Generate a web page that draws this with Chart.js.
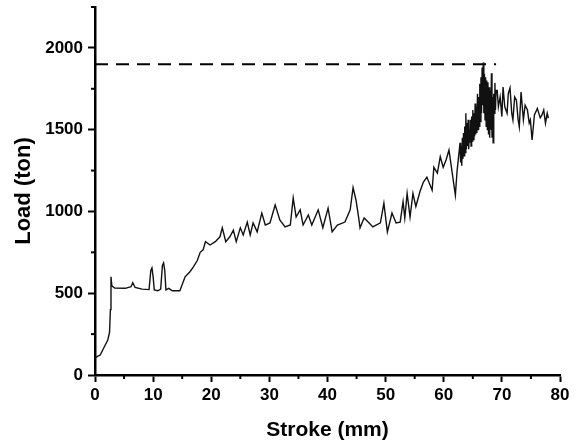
<!DOCTYPE html>
<html>
<head>
<meta charset="utf-8">
<script src="https://cdn.jsdelivr.net/npm/chart.js@4"></script>
<style>
html,body{margin:0;padding:0;background:#fff;}
#wrap{width:585px;height:447px;}
</style>
</head>
<body>
<div id="wrap"><canvas id="c" width="585" height="447"></canvas></div>
<script>
// Stroke (mm) and load (ton)
const strokeValues = [
  0,0.5,0.9,1.5,2.2,2.5,2.65,2.75,2.9,3.4,
  5.2,6.2,6.5,6.9,8.1,9.3,9.6,9.8,10.0,10.2,
  10.8,11.3,11.6,11.8,12.0,12.2,12.7,13.3,14.6,15.5,
  16.3,16.9,17.6,18.1,18.6,19.0,19.8,20.7,21.5,21.9,
  22.5,23.2,23.8,24.3,25.0,25.5,26.2,26.7,27.2,27.9,
  28.7,29.3,30.1,31.0,31.8,32.7,33.6,34.1,34.6,35.3,
  35.8,36.7,37.3,38.4,39.2,40.1,40.8,41.7,43.0,43.9,
  44.4,44.9,45.3,45.6,46.3,47.0,47.8,49.1,49.7,50.3,
  51.1,51.8,52.5,53.0,53.3,53.7,54.2,54.7,55.2,55.9,
  56.5,57.1,58.0,58.3,58.9,59.4,59.9,60.4,60.9,61.4,
  62.0,62.3,
  62.8,62.9,63.0,63.1,63.2,63.3,63.4,63.5,63.6,63.7,
  63.8,63.9,64.0,64.1,64.2,64.3,64.4,64.5,64.6,64.7,
  64.8,64.9,65.0,65.1,65.2,65.3,65.4,65.5,65.6,65.7,
  65.8,65.9,66.0,66.1,66.2,66.3,66.4,66.5,66.6,66.7,
  66.8,66.9,67.0,67.1,67.2,67.3,67.4,67.5,67.6,67.7,
  67.8,67.9,68.0,68.1,68.2,68.3,68.4,68.5,68.6,68.7,
  68.8,68.9,69.0,
  69.2,69.4,69.7,70.0,70.2,70.5,70.9,71.1,71.4,71.7,
  71.9,72.2,72.5,72.8,73.0,73.3,73.7,74.0,74.4,74.7,
  74.9,75.2,75.6,76.1,76.6,76.9,77.2,77.5,77.8,78.0
];
const loadValues = [
  104,115,122,165,214,260,400,600,545,532,
  530,540,565,535,525,522,640,655,600,520,
  515,525,670,685,640,520,530,515,515,600,
  630,660,700,750,765,815,795,815,845,900,
  815,845,885,815,900,856,935,856,930,875,
  990,917,930,1040,948,905,917,1082,966,1010,
  917,978,917,1010,900,1020,875,917,935,1010,
  1145,1070,978,900,960,935,905,930,1050,875,
  990,930,935,1060,960,1110,966,1110,1030,1120,
  1180,1210,1130,1270,1235,1335,1270,1315,1375,1250,
  1100,1250,
  1420,1300,1400,1280,1450,1320,1480,1340,1520,1360,
  1600,1380,1540,1400,1560,1380,1500,1420,1560,1400,
  1580,1430,1620,1440,1600,1460,1660,1470,1640,1480,
  1720,1500,1700,1520,1780,1550,1820,1600,1880,1650,
  1910,1600,1840,1560,1820,1520,1800,1500,1790,1470,
  1760,1450,1740,1500,1845,1450,1700,1420,1720,1600,
  1786,1620,1740,
  1740,1640,1700,1580,1760,1640,1600,1720,1755,1600,
  1560,1700,1680,1560,1517,1730,1560,1650,1620,1540,
  1560,1437,1590,1630,1572,1590,1620,1540,1600,1570
];
// reference (maximum) load level, dashed
const refStroke = [0, 69];
const refLoad = [1900, 1900];

const xTicksMajor = [0,10,20,30,40,50,60,70,80];
const yTicksMajor = [0,500,1000,1500,2000];

const curve = strokeValues.map((x,i)=>({x:x,y:loadValues[i]}));
const refLine = refStroke.map((x,i)=>({x:x,y:refLoad[i]}));

const minorTicks = {
  id:'minorTicks',
  afterDraw(chart){
    const ctx = chart.ctx;
    const xs = chart.scales.x, ys = chart.scales.y;
    ctx.save();
    ctx.strokeStyle = '#000';
    ctx.lineWidth = 2;
    for (let v = 5; v < 80; v += 10) {
      const px = xs.getPixelForValue(v);
      ctx.beginPath(); ctx.moveTo(px, ys.bottom); ctx.lineTo(px, ys.bottom + 4); ctx.stroke();
    }
    for (let v = 250; v <= 2250; v += 500) {
      const py = ys.getPixelForValue(v);
      ctx.beginPath(); ctx.moveTo(xs.left, py); ctx.lineTo(xs.left - 4, py); ctx.stroke();
    }
    ctx.restore();
  }
};

const fontTick = {family:'Liberation Sans, Arial', size:17, weight:'bold'};

new Chart(document.getElementById('c'), {
  type: 'line',
  data: {
    datasets: [
      {data: curve, borderColor:'#111', borderWidth:1.4, pointRadius:0, tension:0, fill:false},
      {data: refLine, borderColor:'#000', borderWidth:2, borderDash:[13,8], pointRadius:0, fill:false}
    ]
  },
  options: {
    responsive:false,
    animation:false,
    layout:{padding:{top:7,right:25,left:0,bottom:0}},
    plugins:{legend:{display:false}, tooltip:{enabled:false}},
    scales:{
      x:{
        type:'linear', min:0, max:80,
        afterBuildTicks(s){ s.ticks = xTicksMajor.map(v=>({value:v})); },
        afterFit(s){ s.height = 72; s.paddingLeft = 0; s.paddingRight = 0; },
        border:{color:'#000', width:2.5},
        grid:{display:true, drawOnChartArea:false, tickLength:7, tickWidth:2, tickColor:'#000'},
        ticks:{color:'#000', padding:3, maxRotation:0, font:fontTick, callback:(v)=>String(v)},
        title:{display:true, text:'Stroke (mm)', color:'#000', padding:{top:0,bottom:4}, font:{family:'Liberation Sans, Arial', size:21, weight:'bold'}}
      },
      y:{
        type:'linear', min:0, max:2250,
        afterBuildTicks(s){ s.ticks = yTicksMajor.map(v=>({value:v})); },
        afterFit(s){ s.width = 95; s.paddingTop = 0; s.paddingBottom = 0; },
        border:{color:'#000', width:2.5},
        grid:{display:true, drawOnChartArea:false, tickLength:7, tickWidth:2, tickColor:'#000'},
        ticks:{color:'#000', padding:5, font:fontTick, callback:(v)=>String(v)},
        title:{display:true, text:'Load (ton)', color:'#000', padding:{top:11,bottom:0}, font:{family:'Liberation Sans, Arial', size:22, weight:'bold'}}
      }
    }
  },
  plugins:[minorTicks]
});
</script>
</body>
</html>
